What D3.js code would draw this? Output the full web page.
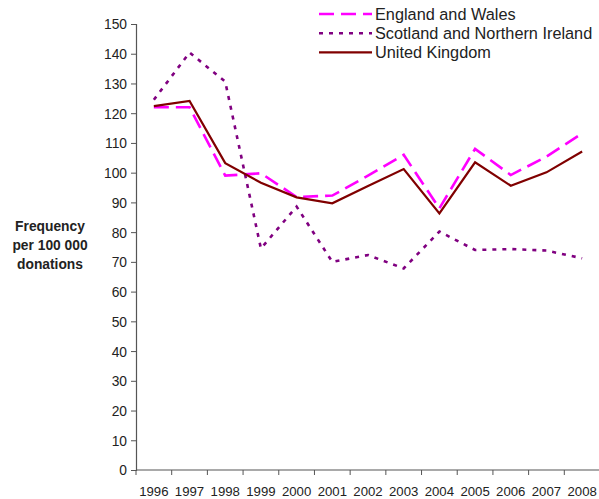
<!DOCTYPE html>
<html><head><meta charset="utf-8">
<script src="https://cdn.jsdelivr.net/npm/d3@7"></script>
<style>body{margin:0;background:#fff}svg{display:block;font-family:Arial,"Liberation Sans",sans-serif}</style>
</head><body><svg id="c" width="599" height="499"></svg>
<script>
const years = ["1996","1997","1998","1999","2000","2001","2002","2003","2004","2005","2006","2007","2008"];
const englandWales = [122,122,99,99.8,91.8,92.3,99,106,88,108,99.2,105.4,113.2];
const scotlandNI = [124.5,140.4,130.6,74.5,88.6,70,72.3,67.8,80.2,74,74.3,73.8,71.2];
const unitedKingdom = [122.4,124.1,103.2,96.6,91.7,89.7,95.5,101.2,86.3,103.5,95.6,100.1,107.1];
const yTicks = [0,10,20,30,40,50,60,70,80,90,100,110,120,130,140,150];
const seriesNames = ["England and Wales","Scotland and Northern Ireland","United Kingdom"];

const svg = d3.select("#c");
const x = d3.scaleBand().domain(years).range([136,600]);
const y = d3.scaleLinear().domain([0,150]).range([470,24]);

const axisColor = "#555";
// y axis
const ya = svg.append("g").attr("transform","translate(136,0)")
  .call(d3.axisLeft(y).tickValues(yTicks).tickSize(5).tickPadding(4));
ya.select(".domain").attr("stroke",axisColor).attr("stroke-width",1.2);
ya.selectAll(".tick line").attr("stroke",axisColor);
ya.selectAll("text").attr("font-size",13.8).attr("fill","#222").attr("dy","0.36em");

// x axis
const xa = svg.append("g").attr("transform","translate(0,470)");
xa.append("line").attr("x1",136).attr("x2",600).attr("stroke",axisColor).attr("stroke-width",1.2);
const bounds = years.map(d=>x(d)).concat([x(years[years.length-1])+x.bandwidth()]);
xa.selectAll(".tk").data(bounds).enter().append("line")
  .attr("x1",d=>d).attr("x2",d=>d).attr("y1",0).attr("y2",5).attr("stroke",axisColor);
xa.selectAll(".lb").data(years).enter().append("text")
  .attr("x",d=>x(d)+x.bandwidth()/2).attr("y",26).attr("text-anchor","middle")
  .attr("font-size",13.2).attr("fill","#222").text(d=>d);

// y title
const ttl = svg.append("text").attr("text-anchor","middle").attr("font-weight","bold")
  .attr("font-size",13.8).attr("fill","#222");
["Frequency","per 100 000","donations"].forEach((t,i)=>
  ttl.append("tspan").attr("x",50).attr("y",231+i*19).text(t));

const cx = d => x(d)+x.bandwidth()/2;
const styles = [
  {data:englandWales,color:"#FF00FF",dash:"15,7",w:2.6},
  {data:scotlandNI,color:"#800080",dash:"4,6",w:2.6},
  {data:unitedKingdom,color:"#800000",dash:null,w:2.2}
];
const line = d3.line().x((d,i)=>cx(years[i])).y(d=>y(d));
styles.forEach(s=>{
  svg.append("path").datum(s.data).attr("d",line).attr("fill","none")
    .attr("stroke",s.color).attr("stroke-width",s.w)
    .attr("stroke-dasharray",s.dash);
});

// legend
const lg = svg.append("g");
seriesNames.forEach((n,i)=>{
  const yy = 14+i*19.2;
  lg.append("line").attr("x1",319).attr("x2",372).attr("y1",yy).attr("y2",yy)
    .attr("stroke",styles[i].color).attr("stroke-width",styles[i].w)
    .attr("stroke-dasharray",styles[i].dash);
  lg.append("text").attr("x",375).attr("y",yy+5.5).attr("font-size",16.3).attr("fill","#222").text(n);
});
</script></body></html>
